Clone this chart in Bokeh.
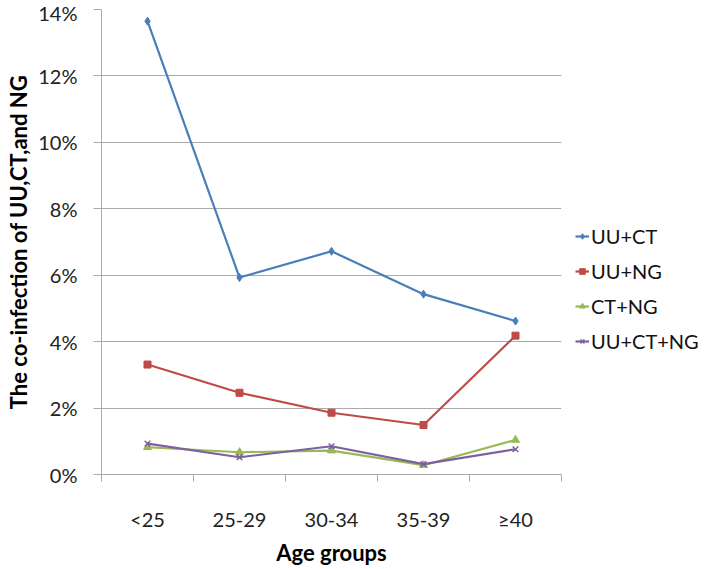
from bokeh.plotting import figure
from bokeh.models import Range1d, FixedTicker, PrintfTickFormatter, Legend, LegendItem
from bokeh.embed import file_html
from bokeh.resources import INLINE

# ---- data (percent) ----
categories = ["<25", "25-29", "30-34", "35-39", "≥40"]
uu_ct = [13.65, 5.93, 6.72, 5.43, 4.62]
uu_ng = [3.31, 2.46, 1.86, 1.49, 4.18]
ct_ng = [0.82, 0.67, 0.72, 0.28, 1.04]
uu_ct_ng = [0.93, 0.52, 0.85, 0.31, 0.76]
series_names = ["UU+CT", "UU+NG", "CT+NG", "UU+CT+NG"]
y_ticks = [0, 2, 4, 6, 8, 10, 12, 14]

colors = ["#4A7EBB", "#BE4B48", "#98B954", "#7D60A0"]
markers = ["diamond", "square", "triangle", "x"]
marker_sizes = [8, 7, 8, 8]
FONT = "Lato"

xs = list(range(1, len(categories) + 1))
boundaries = [i + 0.5 for i in range(len(categories) + 1)]

p = figure(frame_width=460, frame_height=465,
           min_border_left=101, min_border_right=0,
           min_border_top=9, min_border_bottom=94,
           x_range=Range1d(0.5, len(categories) + 0.5),
           y_range=Range1d(0, 14),
           output_backend="svg", toolbar_location=None)
p.outline_line_color = None
p.background_fill_color = "white"

# grid
p.xgrid.grid_line_color = None
p.ygrid.grid_line_color = "#ababab"
p.ygrid.grid_line_width = 1

# y axis
p.yaxis.ticker = FixedTicker(ticks=y_ticks)
p.yaxis.formatter = PrintfTickFormatter(format="%d%%")
p.yaxis.axis_line_color = "#ababab"
p.yaxis.major_tick_line_color = "#ababab"
p.yaxis.major_tick_out = 8
p.yaxis.major_tick_in = 0
p.yaxis.minor_tick_line_color = None
p.yaxis.major_label_standoff = 16
p.yaxis.major_label_text_font = FONT
p.yaxis.major_label_text_font_size = "20px"
p.yaxis.major_label_text_color = "#222222"
p.yaxis.axis_label = "The co-infection of UU,CT,and NG"
p.yaxis.axis_label_text_font = FONT
p.yaxis.axis_label_text_font_size = "22px"
p.yaxis.axis_label_text_font_style = "bold"
p.yaxis.axis_label_text_color = "#000000"
p.yaxis.axis_label_standoff = 3

# x axis
p.xaxis.ticker = FixedTicker(ticks=xs, minor_ticks=boundaries)
p.xaxis.major_label_overrides = {x: c for x, c in zip(xs, categories)}
p.xaxis.axis_line_color = "#ababab"
p.xaxis.major_tick_line_color = None
p.xaxis.major_tick_out = 0
p.xaxis.major_tick_in = 0
p.xaxis.minor_tick_line_color = "#ababab"
p.xaxis.minor_tick_out = 7
p.xaxis.minor_tick_in = 0
p.xaxis.major_label_standoff = 25
p.xaxis.major_label_text_font = FONT
p.xaxis.major_label_text_font_size = "20px"
p.xaxis.major_label_text_color = "#222222"
p.xaxis.axis_label = "Age groups"
p.xaxis.axis_label_text_font = FONT
p.xaxis.axis_label_text_font_size = "22px"
p.xaxis.axis_label_text_font_style = "bold"
p.xaxis.axis_label_text_color = "#000000"
p.xaxis.axis_label_standoff = 5

items = []
for name, vals, col, mk, ms in zip(series_names, [uu_ct, uu_ng, ct_ng, uu_ct_ng],
                                   colors, markers, marker_sizes):
    ln = p.line(xs, vals, line_color=col, line_width=2.2)
    sc = p.scatter(xs, vals, marker=mk, size=ms, fill_color=col, line_color=col,
                   line_width=1.5 if mk == "x" else 1)
    items.append(LegendItem(label=name, renderers=[ln, sc]))

legend = Legend(items=items, location=(14, 121),
                border_line_color=None, background_fill_alpha=0,
                padding=0, margin=0, spacing=11,
                label_height=20, glyph_height=20, glyph_width=14,
                label_standoff=2,
                label_text_font=FONT, label_text_font_size="20px",
                label_text_color="#111111")
p.add_layout(legend, "right")
p.min_border_right = 0

open("out.html", "w").write(file_html(p, INLINE))
